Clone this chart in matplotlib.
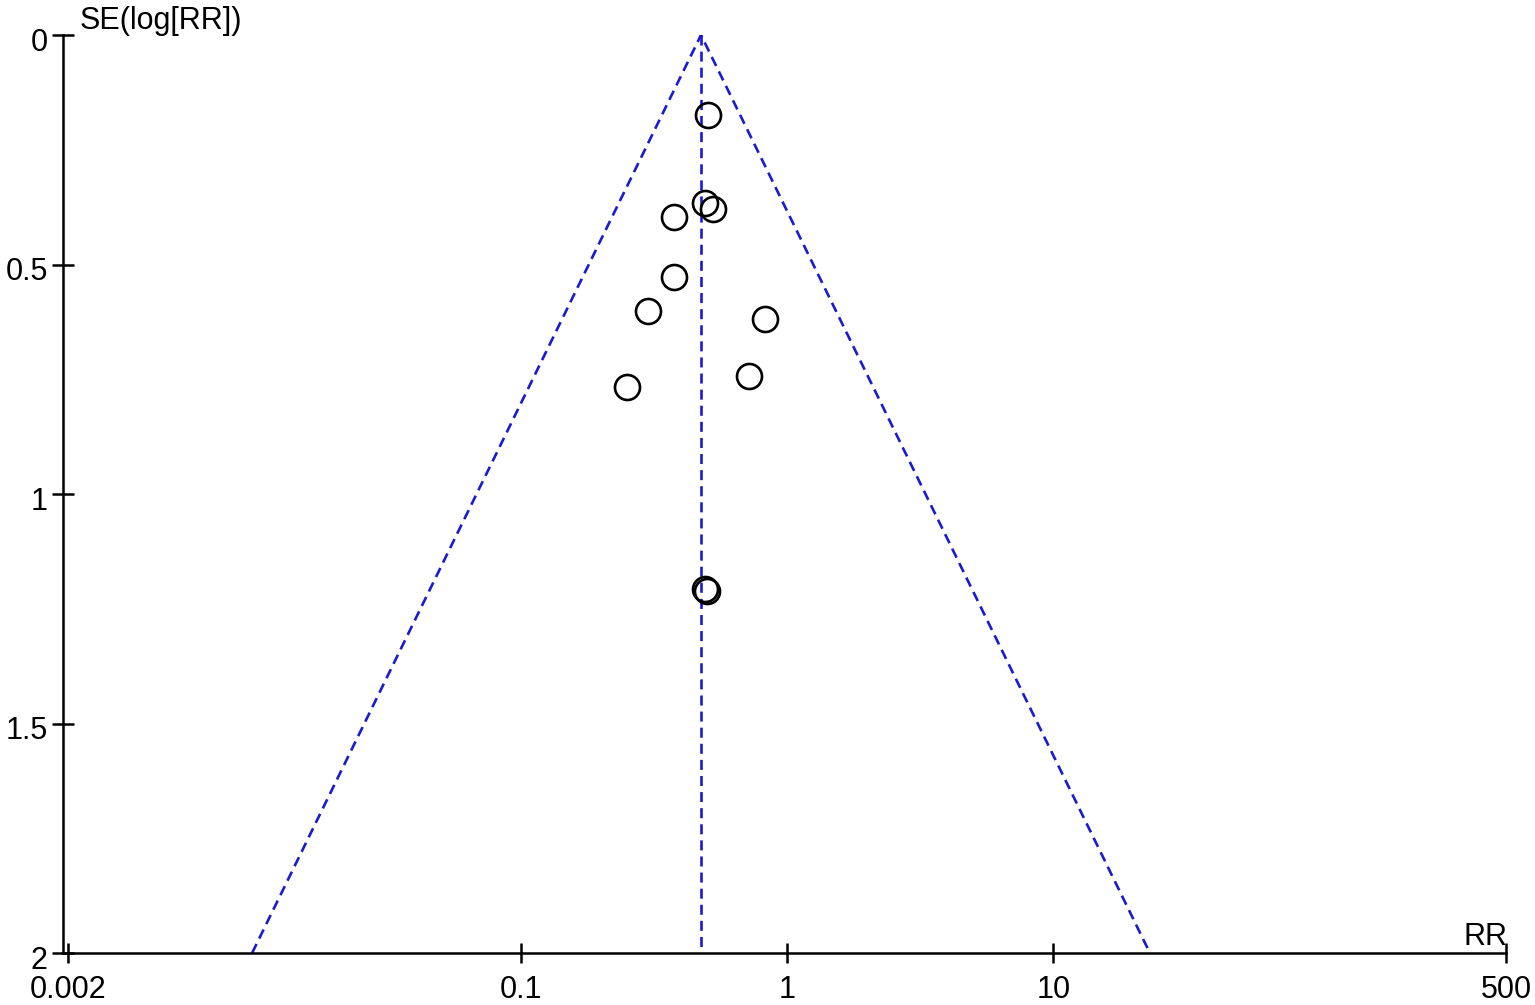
import numpy as np
import matplotlib
matplotlib.use("Agg")
import matplotlib.pyplot as plt
import matplotlib.transforms as mtransforms

plt.rcParams['font.family'] = ['Liberation Sans', 'DejaVu Sans']

# study estimates (risk ratio) and their standard errors of log RR
rr = [0.504, 0.492, 0.529, 0.376, 0.376, 0.300, 0.827, 0.722, 0.250, 0.492, 0.500]
se = [0.174, 0.367, 0.380, 0.397, 0.527, 0.601, 0.619, 0.743, 0.766, 1.207, 1.211]

pooled_rr = 0.4756
se_max = 2.0

x_ticks = [0.002, 0.1, 1, 10, 500]
x_tick_labels = ['0.002', '0.1', '1', '10', '500']
y_ticks = [0, 0.5, 1, 1.5, 2]
y_tick_labels = ['0', '0.5', '1', '1.5', '2']

W, H = 1535, 1005
fig = plt.figure(figsize=(W / 100, H / 100), dpi=100)

# axes in pixel terms: y spine at x=63, 500 at x=1506, SE 0 at y=35, SE 2 at y=953
left_px, right_px, top_px, bottom_px = 63, 1506, 35, 953
ax = fig.add_axes([left_px / W, 1 - bottom_px / H,
                   (right_px - left_px) / W, (bottom_px - top_px) / H])

blue = '#1a1ad2'
z = 1.94
lo = pooled_rr * np.exp(-z * se_max)
hi = pooled_rr * np.exp(z * se_max)
ax.plot([lo, pooled_rr, hi], [se_max, 0, se_max], color=blue, lw=1.9,
        dashes=(3.8, 2.3), zorder=1)
ax.plot([pooled_rr, pooled_rr], [0, se_max], color=blue, lw=1.9,
        dashes=(3.8, 2.3), zorder=1)

ax.plot(rr, se, 'o', ms=18, mfc='none', mec='black', mew=1.9, zorder=3)

ax.set_xscale('log')
decade_px = 266.5
ax.set_xlim(0.002 * 10 ** (-5 / decade_px), 500)
ax.set_ylim(2, 0)

ax.xaxis.set_major_locator(matplotlib.ticker.FixedLocator(x_ticks))
ax.xaxis.set_major_formatter(matplotlib.ticker.FixedFormatter(x_tick_labels))
ax.xaxis.set_minor_locator(matplotlib.ticker.NullLocator())
ax.set_yticks(y_ticks)
ax.set_yticklabels(y_tick_labels)

for s in ['top', 'right']:
    ax.spines[s].set_visible(False)
for s in ['left', 'bottom']:
    ax.spines[s].set_linewidth(1.8)

ax.tick_params(axis='x', direction='inout', length=14, width=1.8,
               labelsize=22, pad=9)
ax.tick_params(axis='y', direction='inout', length=16, width=1.8,
               labelsize=22, pad=3)

# y labels in the reference sit a few pixels below their ticks
shift = mtransforms.ScaledTranslation(0, -4 / 100, fig.dpi_scale_trans)
for lab in ax.get_yticklabels():
    lab.set_transform(lab.get_transform() + shift)

fig.text(80 / W, 1 - 29 / H, 'SE(log[RR])', fontsize=22, va='baseline', ha='left')
fig.text(1507 / W, 1 - 945 / H, 'RR', fontsize=22, va='baseline', ha='right')

fig.savefig('out.png', dpi=100)
